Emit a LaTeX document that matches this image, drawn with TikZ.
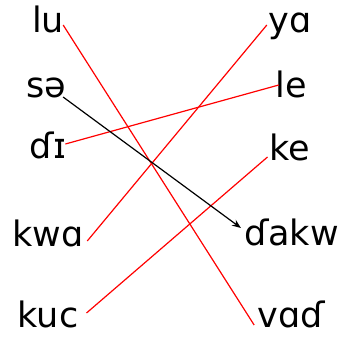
\documentclass[tikz,border=0pt]{standalone}
\usepackage{fontspec}
\setmainfont{DejaVu Sans}
\usetikzlibrary{arrows.meta}
\tikzset{
  lbl/.style={anchor=base, inner sep=0pt, font=\fontsize{35}{40}\selectfont},
  redline/.style={draw=red, line width=1.2pt},
  blackarrow/.style={draw=black, line width=1.2pt, -{Stealth[length=9pt,width=7pt]}}
}
\begin{document}
\begin{tikzpicture}[x=1pt,y=-1pt]
\useasboundingbox (0,0) rectangle (340,337);
% left column
\node[lbl] (lu)  at (48,33)  {lu};
\node[lbl] (se)  at (46,97)  {sə};
\node[lbl] (di)  at (48,158) {ɗɪ};
\node[lbl] (kwa) at (48,246) {kwɑ};
\node[lbl] (kuc) at (48,327) {kuc};
% right column
\node[lbl] (ya)   at (290,33)   {yɑ};
\node[lbl] (le)   at (291,97)   {le};
\node[lbl] (ke)   at (290,160)  {ke};
\node[lbl] (dakw) at (291.5,245) {ɗakw};
\node[lbl] (vad)  at (291,327)  {vɑɗ};
% connectors
\draw[redline] ([shift={(-1pt,8pt)}]lu.base east) -- ([shift={(-3pt,2pt)}]vad.base west);
\draw[redline] ([shift={(-1.5pt,14pt)}]di.base east) -- ([shift={(3.6pt,12pt)}]le.base west);
\draw[redline] ([shift={(3.5pt,5pt)}]kwa.base east) -- ([shift={(-1.5pt,8pt)}]ya.base west);
\draw[redline] ([shift={(8pt,14pt)}]kuc.base east) -- ([shift={(-2pt,3pt)}]ke.base west);
\draw[blackarrow] ([shift={(-3pt,0pt)}]se.base east) -- ([shift={(-3pt,17pt)}]dakw.base west);
\end{tikzpicture}
\end{document}
